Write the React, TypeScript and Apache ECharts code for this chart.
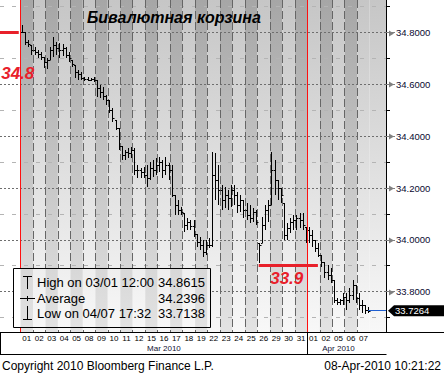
import React, { useEffect, useRef } from "react";
import * as echarts from "echarts";

const FONT = "'Liberation Sans', Arial, sans-serif";

const titleText = "Бивалютная корзина";
const copyrightText = "Copyright 2010 Bloomberg Finance L.P.";
const stampText = "08-Apr-2010 10:21:22";

const dayLabels = [
  "01", "02", "03", "04", "05", "08", "09", "10", "11", "12", "15", "16", "17", "18", "19", "22",
  "23", "24", "25", "26", "29", "30", "31", "01", "02", "05", "06", "07",
];
const monthLabels = ["Mar 2010", "Apr 2010"];
const monthCenters = [11, 25];
const monthStartIndex = 23; // first day of April
const barsPerDay = 4;

// intraday bars (4 per trading day)
const highs = [
  34.830, 34.803, 34.772, 34.752,
  34.745, 34.733, 34.725, 34.706,
  34.702, 34.745, 34.783, 34.764,
  34.760, 34.756, 34.745, 34.725,
  34.694, 34.675, 34.656, 34.648,
  34.629, 34.629, 34.625, 34.629,
  34.617, 34.598, 34.590, 34.559,
  34.540, 34.509, 34.463, 34.432,
  34.362, 34.347, 34.355, 34.358,
  34.355, 34.289, 34.278, 34.281,
  34.289, 34.301, 34.308, 34.316,
  34.320, 34.308, 34.320, 34.297,
  34.289, 34.173, 34.154, 34.127,
  34.104, 34.084, 34.077, 34.077,
  34.023, 34.011, 33.999, 33.999,
  34.007, 34.339, 34.335, 34.289,
  34.212, 34.204, 34.193, 34.212,
  34.212, 34.185, 34.173, 34.154,
  34.142, 34.135, 34.123, 34.115,
  33.988, 34.088, 34.135, 34.154,
  34.339, 34.308, 34.231, 34.200,
  34.142, 34.065, 34.084, 34.096,
  34.096, 34.104, 34.104, 34.050,
  34.050, 34.038, 33.999, 33.988,
  33.941, 33.914, 33.903, 33.891,
  33.845, 33.775, 33.772, 33.795,
  33.795, 33.814, 33.845, 33.826,
  33.795, 33.768, 33.748, 33.741,
];
const lows = [
  34.799, 34.752, 34.745, 34.714,
  34.714, 34.702, 34.694, 34.663,
  34.660, 34.694, 34.706, 34.714,
  34.702, 34.710, 34.702, 34.687,
  34.667, 34.625, 34.617, 34.617,
  34.613, 34.613, 34.613, 34.610,
  34.551, 34.548, 34.540, 34.521,
  34.490, 34.455, 34.424, 34.347,
  34.308, 34.308, 34.316, 34.316,
  34.250, 34.239, 34.239, 34.239,
  34.204, 34.231, 34.243, 34.250,
  34.262, 34.239, 34.250, 34.231,
  34.165, 34.096, 34.096, 34.096,
  34.030, 34.038, 34.038, 34.011,
  33.972, 33.961, 33.934, 33.941,
  33.969, 33.972, 34.154, 34.135,
  34.115, 34.123, 34.115, 34.127,
  34.135, 34.104, 34.108, 34.084,
  34.077, 34.065, 34.069, 34.057,
  33.911, 33.988, 34.038, 34.069,
  34.135, 34.173, 34.154, 34.142,
  33.999, 33.999, 34.026, 34.038,
  34.038, 34.046, 34.038, 33.988,
  33.988, 33.972, 33.953, 33.934,
  33.895, 33.853, 33.845, 33.833,
  33.756, 33.748, 33.748, 33.748,
  33.729, 33.756, 33.768, 33.756,
  33.729, 33.718, 33.714, 33.718,
];
const closes = [
  34.803, 34.764, 34.756, 34.733,
  34.725, 34.718, 34.706, 34.687,
  34.694, 34.733, 34.752, 34.741,
  34.733, 34.741, 34.714, 34.702,
  34.679, 34.648, 34.640, 34.625,
  34.621, 34.617, 34.621, 34.617,
  34.586, 34.571, 34.556, 34.540,
  34.501, 34.471, 34.432, 34.362,
  34.328, 34.339, 34.335, 34.347,
  34.270, 34.270, 34.262, 34.250,
  34.239, 34.278, 34.270, 34.289,
  34.301, 34.270, 34.289, 34.270,
  34.173, 34.135, 34.115, 34.108,
  34.057, 34.069, 34.053, 34.023,
  33.992, 33.980, 33.953, 33.980,
  33.980, 34.250, 34.231, 34.193,
  34.154, 34.173, 34.162, 34.193,
  34.173, 34.135, 34.154, 34.115,
  34.096, 34.084, 34.108, 34.069,
  33.980, 34.057, 34.115, 34.135,
  34.270, 34.231, 34.200, 34.173,
  34.019, 34.046, 34.069, 34.077,
  34.084, 34.077, 34.057, 34.038,
  34.019, 33.999, 33.969, 33.941,
  33.914, 33.876, 33.864, 33.845,
  33.768, 33.760, 33.768, 33.779,
  33.768, 33.787, 33.826, 33.775,
  33.748, 33.748, 33.729, 33.7264,
];

const majorTicks = [33.8, 34.0, 34.2, 34.4, 34.6, 34.8];
const minorTicks = [33.7, 33.9, 34.1, 34.3, 34.5, 34.7, 34.9];
const lastPrice = 33.7264;

const legendLabels = ["High on 03/01 12:00", "Average", "Low on 04/07 17:32"];
const legendValues = ["34.8615", "34.2396", "33.7138"];

// hand-drawn annotations
const startLevel = 34.8;
const startLabel = "34.8";
const targetLevel = 33.9;
const targetLabel = "33.9";
const targetSpan = [18.6, 23.35];
const startLabelPos = [-0.72, 34.642];
const targetLabelPos = [20.85, 33.851];

const X_MIN = -2.144;
const X_MAX = 28.81;
const Y_MIN = 33.644;
const Y_MAX = 34.926;

const BAND_STOPS = [
  [
    { offset: 0, color: "#a6a6a6" },
    { offset: 1, color: "#e3e3e3" },
  ],
  [
    { offset: 0, color: "#c6c6c6" },
    { offset: 1, color: "#f8f8f8" },
  ],
];

const bars = highs.map((h, k) => {
  const day = Math.floor(k / barsPerDay);
  const slot = k % barsPerDay;
  const x = day - 0.5 + (slot + 0.5) / barsPerDay;
  const prev = k > 0 ? closes[k - 1] : closes[0];
  const open = Math.min(h, Math.max(lows[k], prev));
  return [x, open, h, lows[k], closes[k]];
});

const bands: number[][] = dayLabels.map((_, i) => [i - 0.5, i + 0.5, i % 2]);
bands.push([dayLabels.length - 0.5, X_MAX, 1]);

const boundaries = dayLabels.slice(1).map((_, i) => i + 0.5);
const dayCenters = dayLabels.map((_, i) => i);
const lastBar = bars[bars.length - 1];

const buildOption = (): any => ({
  animation: false,
  backgroundColor: "#fff",
  textStyle: { fontFamily: FONT },
  title: {
    text: titleText,
    left: 87,
    top: 9,
    padding: 0,
    textStyle: { fontSize: 16, fontWeight: "bold", fontStyle: "italic", color: "#000", fontFamily: FONT },
  },
  grid: { left: 0, right: 58, top: 0, bottom: 43, containLabel: false, outerBoundsMode: "none" },
  xAxis: [
    {
      type: "value",
      position: "bottom",
      min: X_MIN,
      max: X_MAX,
      z: 2,
      axisLine: { show: true, onZero: false, lineStyle: { color: "#000", width: 1 } },
      axisTick: { show: false, customValues: boundaries },
      splitLine: { show: true, lineStyle: { color: "#666", width: 1, type: [8, 3] } },
      axisLabel: {
        show: true,
        customValues: dayCenters,
        margin: 2,
        fontSize: 8,
        color: "#000",
        fontFamily: FONT,
        formatter: (v: number) => dayLabels[Math.round(v)] ?? "",
      },
    },
    {
      type: "value",
      position: "bottom",
      min: X_MIN,
      max: X_MAX,
      z: 2,
      axisLine: { show: false, onZero: false },
      axisTick: { show: false },
      splitLine: { show: false },
      axisLabel: {
        show: true,
        customValues: monthCenters,
        margin: 12,
        fontSize: 8,
        color: "#111133",
        fontFamily: FONT,
        formatter: (v: number) => monthLabels[monthCenters.indexOf(Math.round(v))] ?? "",
      },
    },
  ],
  yAxis: [
    {
      type: "value",
      position: "right",
      min: Y_MIN,
      max: Y_MAX,
      z: 2,
      axisLine: { show: true, onZero: false, lineStyle: { color: "#000", width: 1 } },
      axisTick: { show: true, customValues: minorTicks, length: 4, lineStyle: { color: "#000" } },
      splitLine: { show: true, lineStyle: { color: "#b4b4b4", width: 1, type: [4, 8] } },
      axisLabel: {
        show: true,
        customValues: majorTicks,
        margin: 10,
        fontSize: 9.5,
        color: "#0a0a30",
        fontFamily: FONT,
        formatter: (v: number) => v.toFixed(4),
      },
    },
    {
      type: "value",
      position: "right",
      min: Y_MIN,
      max: Y_MAX,
      z: 2,
      axisLine: { show: false, onZero: false },
      axisTick: { show: true, customValues: majorTicks, length: 9, lineStyle: { color: "#808080", width: 1 } },
      splitLine: { show: true, lineStyle: { color: "#6e6e6e", width: 1, type: [2, 2] } },
      axisLabel: { show: false },
    },
  ],
  series: [
    {
      type: "custom",
      name: "bands",
      z: 1,
      silent: true,
      xAxisIndex: 0,
      yAxisIndex: 0,
      encode: { x: [0, 1] },
      data: bands,
      renderItem: (params: any, api: any) => {
        const a = api.coord([api.value(0), Y_MIN]);
        const b = api.coord([api.value(1), Y_MIN]);
        const cs = params.coordSys;
        const kind = api.value(2) as number;
        return {
          type: "rect",
          shape: { x: a[0], y: cs.y, width: b[0] - a[0], height: cs.height },
          style: { fill: new echarts.graphic.LinearGradient(0, 0, 0, 1, BAND_STOPS[kind]) },
        };
      },
    },
    {
      type: "custom",
      name: "Bivalute basket",
      z: 3,
      silent: true,
      xAxisIndex: 0,
      yAxisIndex: 0,
      encode: { x: 0, y: [1, 2, 3, 4] },
      data: bars,
      renderItem: (_params: any, api: any) => {
        const x = api.value(0) as number;
        const o = api.coord([x, api.value(1)]);
        const h = api.coord([x, api.value(2)]);
        const l = api.coord([x, api.value(3)]);
        const c = api.coord([x, api.value(4)]);
        const px = Math.round(h[0]) + 0.5;
        const st = { stroke: "#000", lineWidth: 1 };
        const y1 = Math.round(h[1]);
        let y2 = Math.round(l[1]);
        if (y2 - y1 < 1) y2 = y1 + 1;
        const oy = Math.round(o[1]) + 0.5;
        const cy = Math.round(c[1]) + 0.5;
        return {
          type: "group",
          children: [
            { type: "line", shape: { x1: px, y1, x2: px, y2 }, style: st },
            { type: "line", shape: { x1: px - 1.5, y1: oy, x2: px, y2: oy }, style: st },
            { type: "line", shape: { x1: px, y1: cy, x2: px + 2, y2: cy }, style: st },
          ],
        };
      },
      markLine: {
        silent: true,
        symbol: ["none", "none"],
        label: { show: false },
        animation: false,
        lineStyle: { color: "#ff1010", width: 1, type: "solid" },
        data: [
          { xAxis: -0.5, lineStyle: { color: "#ff1010", width: 1, type: "solid" } },
          { xAxis: monthStartIndex - 0.5, lineStyle: { color: "#ff1010", width: 1, type: "solid" } },
          [
            { coord: [X_MIN, startLevel], lineStyle: { color: "#e8202a", width: 3, type: "solid" } },
            { coord: [-0.64, startLevel] },
          ],
          [
            { coord: [targetSpan[0], targetLevel], lineStyle: { color: "#e8202a", width: 3, type: "solid" } },
            { coord: [targetSpan[1], targetLevel] },
          ],
          [
            { coord: [lastBar[0], lastPrice], lineStyle: { color: "#1f5fd0", width: 1, type: "solid" } },
            { coord: [X_MAX, lastPrice] },
          ],
        ],
      },
      markPoint: {
        silent: true,
        symbol: "circle",
        symbolSize: 1,
        itemStyle: { color: "rgba(0,0,0,0)" },
        label: {
          show: true,
          position: "inside",
          color: "#e8202a",
          fontSize: 17,
          fontWeight: "bold",
          fontStyle: "italic",
          fontFamily: FONT,
        },
        data: [
          { coord: startLabelPos, label: { formatter: startLabel } },
          { coord: targetLabelPos, label: { formatter: targetLabel } },
        ],
      },
    },
  ],
});

const buildGraphic = (chart: any) => {
  const px = (v: number) => chart.convertToPixel({ xAxisIndex: 0 }, v) as number;
  const py = (v: number) => chart.convertToPixel({ yAxisIndex: 0 }, v) as number;
  const top = py(Y_MAX);
  const bottom = py(Y_MIN);
  const right = px(X_MAX);
  const els: any[] = [];
  const Z = 10;
  const line = (x1: number, y1: number, x2: number, y2: number, stroke = "#000", w = 1) =>
    els.push({ type: "line", z: Z, silent: true, shape: { x1, y1, x2, y2 }, style: { stroke, lineWidth: w } });
  const text = (x: number, y: number, t: string, opts: any = {}) =>
    els.push({
      type: "text",
      z: Z,
      silent: true,
      x,
      y,
      style: {
        text: t,
        fill: "#000",
        fontSize: 13,
        fontFamily: FONT,
        verticalAlign: "middle",
        align: "left",
        ...opts,
      },
    });

  const by = Math.round(bottom) + 0.5;
  // frame around axis areas
  line(right, by, 444, by);
  line(0.5, by, 0.5, 355);
  line(0, 354.5, Math.round(right) + 0.5, 354.5);
  const sep = Math.round(px(monthStartIndex - 0.5)) + 0.5;
  line(sep, by, sep, 355);

  // gray markers at major ticks
  majorTicks.forEach((v) => {
    const y = Math.round(py(v)) + 0.5;
    els.push({
      type: "polygon",
      z: Z,
      silent: true,
      shape: { points: [[389, y - 3], [389, y + 3], [394, y]] },
      style: { fill: "#808080" },
    });
  });

  // last price tag
  const ly = py(lastPrice);
  els.push({
    type: "polygon",
    z: Z,
    silent: true,
    shape: { points: [[388, ly], [394, ly - 5.5], [444, ly - 5.5], [444, ly + 5.5], [394, ly + 5.5]] },
    style: { fill: "#000" },
  });
  text(395, ly, lastPrice.toFixed(4), { fill: "#fff", fontSize: 9.5 });

  // legend box with the chart background showing through
  const LB = { x: 13, y: 268, w: 197, h: 59 };
  els.push({ type: "rect", z: Z, silent: true, shape: { x: LB.x, y: LB.y, width: LB.w, height: LB.h }, style: { fill: "#fff" } });
  bands.forEach(([s, e, k]) => {
    const a = Math.max(px(s), LB.x);
    const b = Math.min(px(e), LB.x + LB.w);
    if (b > a) {
      els.push({
        type: "rect",
        z: Z,
        silent: true,
        shape: { x: a, y: LB.y, width: b - a, height: LB.h },
        style: {
          fill: { type: "linear", x: 0, y: top, x2: 0, y2: bottom, colorStops: BAND_STOPS[k], global: true },
        },
      });
    }
  });
  els.push({
    type: "rect",
    z: Z,
    silent: true,
    shape: { x: LB.x + 0.5, y: LB.y + 0.5, width: LB.w, height: LB.h },
    style: { fill: "none", stroke: "#000", lineWidth: 1 },
  });
  const rows = [282.5, 298.5, 313.5];
  // high icon
  line(27.5, 276, 27.5, 289);
  line(23, 276.5, 32, 276.5);
  // average icon
  line(20, 298.5, 35, 298.5);
  line(27.5, 296, 27.5, 301);
  // low icon
  line(27.5, 306, 27.5, 320);
  line(23, 319.5, 32, 319.5);
  legendLabels.forEach((t, i) => {
    text(37, rows[i], t);
    text(205, rows[i], legendValues[i], { align: "right" });
  });

  // footer
  text(2, 366, copyrightText, { fontSize: 12 });
  text(441, 366, stampText, { fontSize: 12, align: "right" });

  return els;
};

export default function App() {
  const ref = useRef<HTMLDivElement>(null);
  useEffect(() => {
    if (!ref.current) return;
    const chart = echarts.init(ref.current, undefined, { renderer: "svg" });
    chart.setOption(buildOption());
    chart.setOption({ graphic: { elements: buildGraphic(chart) } });
    return () => chart.dispose();
  }, []);
  return (
    <div
      ref={ref}
      style={{ position: "fixed", left: 0, top: 0, width: 444, height: 375, background: "#fff" }}
    />
  );
}
